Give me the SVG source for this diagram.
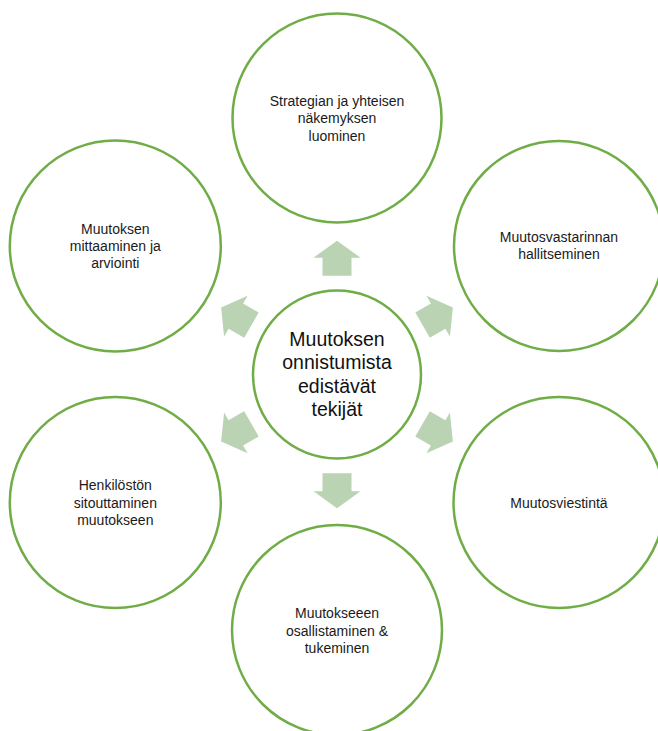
<svg xmlns="http://www.w3.org/2000/svg" xmlns:xlink="http://www.w3.org/1999/xlink" width="658" height="731" viewBox="0 0 658 731">
  <style>
    .node { fill: #ffffff; stroke: #70AD47; stroke-width: 2.5; }
    .lbl { font-family: "Liberation Sans", Arial, sans-serif; font-size: 14px; fill: #1a1a1a; text-anchor: middle; }
    .hub { font-family: "Liberation Sans", Arial, sans-serif; font-size: 19.5px; fill: #111111; text-anchor: middle; }
    .arrow { fill: #BAD3B3; stroke: none; }
  </style>
  <defs>
    <path id="arr" class="arrow" d="M -14.5 -98.8 L -14.5 -116.8 L -23.5 -116.8 L 0 -133.8 L 23.5 -116.8 L 14.5 -116.8 L 14.5 -98.8 Z"/>
  </defs>
  <rect width="658" height="731" fill="#ffffff"/>

  <g id="connectors">
    <use xlink:href="#arr" href="#arr" transform="translate(337 374.5) rotate(0)"/>
    <use xlink:href="#arr" href="#arr" transform="translate(337 374.5) rotate(60)"/>
    <use xlink:href="#arr" href="#arr" transform="translate(337 374.5) rotate(120)"/>
    <use xlink:href="#arr" href="#arr" transform="translate(337 374.5) rotate(180)"/>
    <use xlink:href="#arr" href="#arr" transform="translate(337 374.5) rotate(240)"/>
    <use xlink:href="#arr" href="#arr" transform="translate(337 374.5) rotate(300)"/>
  </g>

  <g id="node-top">
    <circle class="node" cx="337" cy="118" r="104.5"/>
    <text class="lbl" x="337" y="105.7">Strategian ja yhteisen</text>
    <text class="lbl" x="337" y="123.3">näkemyksen</text>
    <text class="lbl" x="337" y="140.7">luominen</text>
  </g>

  <g id="node-top-right">
    <circle class="node" cx="559" cy="246" r="105"/>
    <text class="lbl" x="559" y="242.3">Muutosvastarinnan</text>
    <text class="lbl" x="559" y="259.3">hallitseminen</text>
  </g>

  <g id="node-bottom-right">
    <circle class="node" cx="559" cy="502.5" r="105.5"/>
    <text class="lbl" x="559" y="508">Muutosviestintä</text>
  </g>

  <g id="node-bottom">
    <circle class="node" cx="337" cy="630" r="105"/>
    <text class="lbl" x="337" y="617.7">Muutokseeen</text>
    <text class="lbl" x="337" y="636">osallistaminen &amp;</text>
    <text class="lbl" x="337" y="652.7">tukeminen</text>
  </g>

  <g id="node-bottom-left">
    <circle class="node" cx="115.3" cy="502.5" r="105.5"/>
    <text class="lbl" x="115.3" y="490">Henkilöstön</text>
    <text class="lbl" x="115.3" y="508">sitouttaminen</text>
    <text class="lbl" x="115.3" y="525">muutokseen</text>
  </g>

  <g id="node-top-left">
    <circle class="node" cx="115.3" cy="246" r="105.5"/>
    <text class="lbl" x="115.3" y="234">Muutoksen</text>
    <text class="lbl" x="115.3" y="250.7">mittaaminen ja</text>
    <text class="lbl" x="115.3" y="268.3">arviointi</text>
  </g>

  <g id="node-center">
    <circle class="node" cx="337" cy="374.5" r="84"/>
    <text class="hub" x="337" y="345.7">Muutoksen</text>
    <text class="hub" x="337" y="368.8">onnistumista</text>
    <text class="hub" x="337" y="393.3">edistävät</text>
    <text class="hub" x="337" y="415.7">tekijät</text>
  </g>
</svg>
